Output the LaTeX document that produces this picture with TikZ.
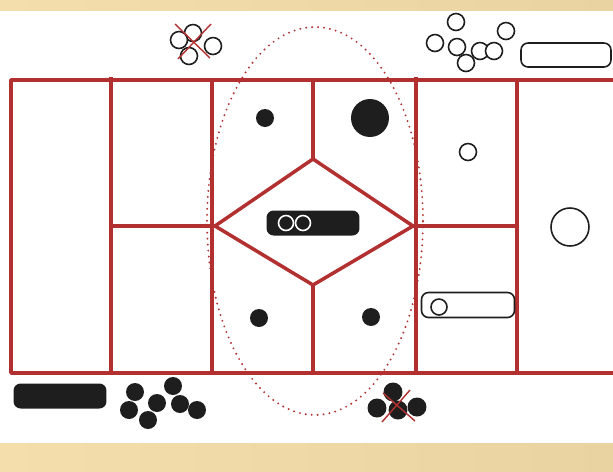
\documentclass[tikz,border=0pt]{standalone}
\usepackage{xcolor}
\usepackage{tikz}
\usetikzlibrary{positioning}

\definecolor{wallred}{RGB}{178,48,48}
\definecolor{ink}{RGB}{30,30,30}
\definecolor{sand}{RGB}{244,223,172}
\definecolor{sanddark}{RGB}{233,211,160}

\begin{document}
\begin{tikzpicture}[x=0.02cm, y=0.02cm,
    wall/.style={draw=wallred, line width=2pt, line join=round},
    zone/.style={draw=wallred, line width=1.2pt, line cap=round, dash pattern=on 0pt off 3.4pt},
    piece/.style={circle, draw=ink, fill=white, line width=0.9pt, minimum size=0.34cm, inner sep=0pt},
    stone/.style={circle, fill=ink, minimum size=0.36cm, inner sep=0pt},
    bar/.style={rounded corners=4pt, line width=0.9pt, minimum width=1.86cm, minimum height=0.5cm, inner sep=0pt},
    cross/.style={draw=wallred, line width=0.8pt},
]
    % page and bands
    \useasboundingbox (0,0) rectangle (613,-471);
    \fill[left color=sand, right color=sanddark] (0,0) rectangle (613,-10);
    \fill[left color=sand, right color=sanddark] (0,-443) rectangle (613,-471);

    % walls of the field
    \draw[wall] (613,-80) -- (11,-80) -- (11,-373) -- (613,-373);
    \draw[wall] (111,-77) -- (111,-373);
    \draw[wall] (212,-80) -- (212,-373);
    \draw[wall] (416,-77) -- (416,-373);
    \draw[wall] (517,-80) -- (517,-373);
    \draw[wall] (313,-80) -- (313,-159);
    \draw[wall] (313,-285) -- (313,-373);
    \draw[wall] (215,-226) -- (313,-159) -- (413,-226) -- (313,-285) -- cycle;
    \draw[wall] (111,-226) -- (215,-226);
    \draw[wall] (413,-226) -- (517,-226);

    % dotted zone
    \draw[zone] (315,-221) ellipse [x radius=108, y radius=194];

    % top left group, crossed out
    \node[piece] (tl1) at (193,-33) {};
    \node[piece] (tl2) at (179,-40) {};
    \node[piece] (tl3) at (189,-56) {};
    \node[piece] (tl4) at (213,-46) {};
    \coordinate (tlxa) at (175,-24);
    \coordinate (tlxb) at (210,-58);
    \coordinate (tlxc) at (211,-24);
    \coordinate (tlxd) at (178,-59);
    \draw[cross] (tlxa) -- (tlxb);
    \draw[cross] (tlxc) -- (tlxd);

    % top right group
    \node[piece] (tr1) at (456,-22) {};
    \node[piece] (tr2) at (435,-43) {};
    \node[piece] (tr3) at (457,-47) {};
    \node[piece] (tr4) at (466,-63) {};
    \node[piece] (tr5) at (480,-51) {};
    \node[piece] (tr6) at (494,-51) {};
    \node[piece] (tr7) at (506,-31) {};
    \node[bar, draw=ink, fill=white, minimum width=1.8cm, minimum height=0.48cm] (trbar) at (566,-55) {};

    % inside the field
    \node[stone] (d1) at (265,-118) {};
    \node[stone, minimum size=0.76cm] (d2) at (370,-118) {};
    \node[stone] (d3) at (259,-318) {};
    \node[stone] (d4) at (371,-317) {};
    \node[bar, fill=ink] (midbar) at (313,-223) {};
    \node[piece, draw=white, fill=ink, minimum size=0.3cm] (mb1) at (286,-223) {};
    \node[piece, draw=white, fill=ink, minimum size=0.3cm] (mb2) at (303,-223) {};
    \node[piece] (r1) at (468,-152) {};
    \node[piece, minimum size=0.76cm] (r2) at (570,-227) {};
    \node[bar, draw=ink, fill=white] (rbar) at (468,-305) {};
    \node[piece, minimum size=0.32cm] (rb1) at (439,-307) {};

    % bottom left group
    \node[bar, fill=ink] (blbar) at (60,-396) {};
    \node[stone] (bl1) at (135,-392) {};
    \node[stone] (bl2) at (129,-410) {};
    \node[stone] (bl3) at (148,-420) {};
    \node[stone] (bl4) at (157,-403) {};
    \node[stone] (bl5) at (173,-386) {};
    \node[stone] (bl6) at (180,-404) {};
    \node[stone] (bl7) at (197,-410) {};

    % bottom middle group, crossed out
    \node[stone, minimum size=0.38cm] (bm1) at (393,-392) {};
    \node[stone, minimum size=0.38cm] (bm2) at (377,-408) {};
    \node[stone, minimum size=0.38cm] (bm3) at (398,-410) {};
    \node[stone, minimum size=0.38cm] (bm4) at (417,-407) {};
    \coordinate (bmxa) at (383,-393);
    \coordinate (bmxb) at (415,-421);
    \coordinate (bmxc) at (410,-390);
    \coordinate (bmxd) at (382,-422);
    \draw[cross] (bmxa) -- (bmxb);
    \draw[cross] (bmxc) -- (bmxd);
\end{tikzpicture}
\end{document}
